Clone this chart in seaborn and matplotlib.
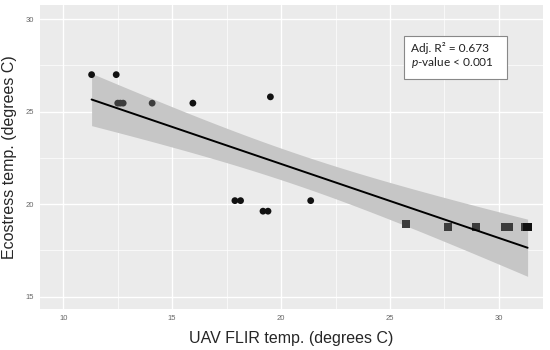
import numpy as np
import pandas as pd
import matplotlib
matplotlib.use("Agg")
import matplotlib.pyplot as plt
import matplotlib.patches as mpatches
import seaborn as sns

# points
circle_x = [11.30, 12.43, 12.50, 12.62, 12.75, 14.08, 15.95, 17.88, 18.14,
            19.17, 19.40, 19.51, 21.36]
circle_y = [27.00, 27.00, 25.46, 25.46, 25.46, 25.46, 25.46, 20.19, 20.19,
            19.62, 19.62, 25.80, 20.19]
circle_shade = ["dark", "dark", "light", "light", "light", "light", "dark", "dark", "dark",
                "dark", "dark", "dark", "dark"]
square_x = [25.75, 27.66, 28.96, 30.28, 30.46, 31.20, 31.32]
square_y = [18.92, 18.76, 18.76, 18.76, 18.76, 18.76, 18.76]
square_shade = ["light", "light", "light", "light", "light", "light", "dark"]

x_ticks = [10, 15, 20, 25, 30]
y_ticks = [15, 20, 25, 30]
stat_line1 = "Adj. R\u00b2 = 0.673"
stat_line2 = "$p$-value < 0.001"

df = pd.DataFrame({
    "uav": circle_x + square_x,
    "eco": circle_y + square_y,
    "grp": ["a"] * len(circle_x) + ["b"] * len(square_x),
    "shade": circle_shade + square_shade,
})

# linear fit with 95% confidence band (like geom_smooth(method = "lm"))
n = len(df)
b1, b0 = np.polyfit(df.uav, df.eco, 1)
resid = df.eco - (b0 + b1 * df.uav)
s = np.sqrt((resid ** 2).sum() / (n - 2))
xbar = df.uav.mean()
sxx = ((df.uav - xbar) ** 2).sum()
t975 = 2.101  # t quantile, df = n - 2
fit = pd.DataFrame({"uav": np.linspace(df.uav.min(), df.uav.max(), 100)})
fit["eco"] = b0 + b1 * fit.uav
half = t975 * s * np.sqrt(1 / n + (fit.uav - xbar) ** 2 / sxx)
fit["lo"] = fit.eco - half
fit["hi"] = fit.eco + half

sns.set_style("darkgrid", {"axes.facecolor": "#ebebeb", "grid.color": "white"})
plt.rcParams["font.family"] = ["Liberation Sans", "DejaVu Sans"]
plt.rcParams["mathtext.fontset"] = "custom"
plt.rcParams["mathtext.rm"] = "Lato"
plt.rcParams["mathtext.it"] = "Lato:italic"

fig = plt.figure(figsize=(5.5, 3.5), dpi=100)
ax = fig.add_axes([0.0727, 0.117, 0.9143, 0.869])

ax.fill_between(fit.uav, fit.lo, fit.hi, color="#c6c6c6", lw=0)
sns.lineplot(data=fit, x="uav", y="eco", color="black", lw=1.4, ax=ax)

pal = {"dark": "#111111", "light": "#3c3c3c"}
sns.scatterplot(data=df[df.grp == "a"], x="uav", y="eco", hue="shade", palette=pal,
                marker="o", s=24, edgecolor="none", legend=False, ax=ax)
sns.scatterplot(data=df[df.grp == "b"], x="uav", y="eco", hue="shade", palette=pal,
                marker="s", s=36, edgecolor="none", legend=False, ax=ax)

ax.set_xlim(8.93, 32.02)
ax.set_ylim(14.33, 30.77)
ax.set_xticks(x_ticks)
ax.set_yticks(y_ticks)
ax.set_xticks([12.5, 17.5, 22.5, 27.5], minor=True)
ax.set_yticks([17.5, 22.5, 27.5], minor=True)
ax.grid(which="major", color="white", lw=1.0)
ax.grid(which="minor", color="white", lw=0.5)
ax.tick_params(which="major", length=2.5, width=0.6, color="#555555",
               labelsize=5.5, labelcolor="#666666", pad=2)
ax.tick_params(which="minor", length=0)
for sp in ax.spines.values():
    sp.set_visible(False)

ax.set_xlabel("UAV FLIR temp. (degrees C)", fontsize=11.5, labelpad=6)
ax.set_ylabel("Ecostress temp. (degrees C)", fontsize=11.5, labelpad=6)

# annotation box
ax.add_patch(mpatches.Rectangle((0.724, 0.757), 0.204, 0.141, transform=ax.transAxes,
                                fc="white", ec="#888888", lw=0.8, zorder=5))
ax.text(0.737, 0.844, stat_line1, transform=ax.transAxes, ha="left", va="baseline",
        fontsize=8.6, family=["Lato", "DejaVu Sans"], color="#222222", zorder=6)
ax.text(0.737, 0.798, stat_line2, transform=ax.transAxes, ha="left", va="baseline",
        fontsize=8.6, family=["Lato", "DejaVu Sans"], color="#222222", zorder=6)

fig.savefig("out.png", dpi=100)
